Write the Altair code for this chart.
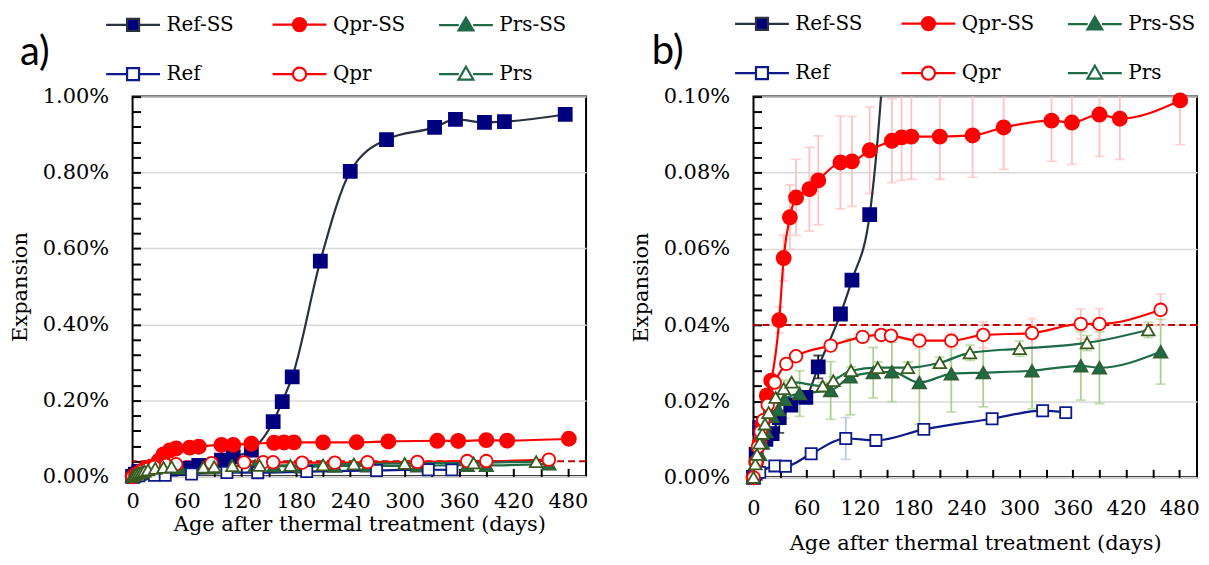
import altair as alt
import pandas as pd

# Expansion readings in %, day = age after thermal treatment
ref_ss_day = [0, 3, 7, 14, 21, 29, 42, 59, 73, 98, 111, 131, 155, 165, 176, 207, 240, 280, 333, 356, 388, 410, 477]
ref_ss_val = [0.0, 0.006, 0.013, 0.010, 0.0115, 0.0157, 0.019, 0.021, 0.029, 0.0429, 0.0518, 0.069, 0.144, 0.197,
              0.262, 0.567, 0.803, 0.887, 0.919, 0.940, 0.932, 0.934, 0.953]
ref_ss_err = [0, 0, 0, 0, 0, 0.004, 0, 0, 0.003, 0, 0, 0, 0, 0, 0, 0, 0, 0, 0, 0, 0, 0, 0]

qpr_ss_day = [0, 3, 7, 10, 15, 20, 29, 34, 41, 48, 63, 73, 98, 111, 131, 156, 167, 178, 210, 247, 282, 336, 359, 390, 413, 481]
qpr_ss_val = [0.0, 0.004, 0.009, 0.014, 0.0215, 0.0254, 0.0413, 0.0576, 0.0683, 0.0735, 0.0757, 0.078, 0.0827, 0.083,
              0.0859, 0.0884, 0.0893, 0.0895, 0.0895, 0.0898, 0.0919, 0.0937, 0.0932, 0.0953, 0.0942, 0.099]
qpr_ss_err = [0, 0, 0, 0, 0, 0, 0.0034, 0.006, 0.0085, 0.010, 0.011, 0.0117, 0.0122, 0.0118, 0.0114, 0.011, 0.0113,
              0.0112, 0.0112, 0.011, 0.011, 0.0107, 0.011, 0.011, 0.0107, 0.0116]

prs_ss_day = [0, 3, 7, 10, 14, 21, 28, 35, 52, 87, 109, 135, 156, 187, 223, 259, 314, 369, 390, 459]
prs_ss_val = [0.0, 0.003, 0.006, 0.009, 0.012, 0.016, 0.0178, 0.0205, 0.022, 0.0228, 0.0264, 0.0275, 0.0277, 0.0249,
              0.0272, 0.0275, 0.028, 0.0293, 0.0288, 0.033]
prs_ss_err = [0, 0, 0, 0, 0, 0, 0.004, 0.005, 0.006, 0.0076, 0.010, 0.0066, 0.0078, 0.011, 0.010, 0.009, 0.010,
              0.009, 0.0094, 0.0085]

ref_day = [0, 3, 7, 24, 36, 65, 104, 138, 192, 269, 326, 352]
ref_val = [0.0, 0.0008, 0.0013, 0.003, 0.0029, 0.0062, 0.0102, 0.0097, 0.0126, 0.0154, 0.0175, 0.017]
ref_err = [0, 0, 0, 0.0012, 0, 0, 0.0055, 0, 0.0008, 0, 0, 0]

qpr_day = [0, 3, 5, 8, 11, 16, 24, 37, 48, 87, 123, 144, 155, 187, 223, 259, 314, 369, 390, 459]
qpr_val = [0.0, 0.004, 0.008, 0.012, 0.015, 0.019, 0.0249, 0.0298, 0.0318, 0.0346, 0.0369, 0.0374, 0.0372, 0.0359,
           0.0359, 0.0374, 0.0379, 0.0403, 0.0403, 0.044]
qpr_err = [0, 0, 0, 0, 0, 0, 0, 0, 0, 0.0012, 0.0012, 0.001, 0.001, 0.002, 0.002, 0.0034, 0.0038, 0.0039, 0.004, 0.0041]

prs_day = [0, 2, 4, 7, 10, 13, 17, 25, 34, 43, 78, 90, 110, 140, 174, 210, 244, 300, 376, 445]
prs_val = [0.0, 0.0035, 0.006, 0.009, 0.0115, 0.014, 0.017, 0.021, 0.0233, 0.025, 0.024, 0.0254, 0.028, 0.0288,
           0.0288, 0.0301, 0.0327, 0.0338, 0.0353, 0.0387]
prs_err = [0, 0, 0, 0, 0, 0, 0, 0, 0, 0, 0.001, 0.001, 0.001, 0.0015, 0.0015, 0.0015, 0.002, 0.002, 0.002, 0.002]

limit = 0.04  # dashed threshold line, %

x_ticks = [0, 60, 120, 180, 240, 300, 360, 420, 480]
x_minor = [0, 30, 60, 90, 120, 150, 180, 210, 240, 270, 300, 330, 360, 390, 420, 450, 480]
y_ticks_a = [0.0, 0.2, 0.4, 0.6, 0.8, 1.0]
y_ticks_b = [0.0, 0.02, 0.04, 0.06, 0.08, 0.10]

names = ["Ref-SS", "Qpr-SS", "Prs-SS", "Ref", "Qpr", "Prs"]
series = {
    "Ref-SS": (ref_ss_day, ref_ss_val, ref_ss_err),
    "Qpr-SS": (qpr_ss_day, qpr_ss_val, qpr_ss_err),
    "Prs-SS": (prs_ss_day, prs_ss_val, prs_ss_err),
    "Ref": (ref_day, ref_val, ref_err),
    "Qpr": (qpr_day, qpr_val, qpr_err),
    "Prs": (prs_day, prs_val, prs_err),
}

# looks of each series
NAVY = "#00007F"
RED = "#FF0000"
GREEN = "#1E6B47"
style = {
    "Ref-SS": dict(line="#2A3140", stroke=NAVY, fill=NAVY, shape="square", size=170, ecol="#000000"),
    "Qpr-SS": dict(line=RED, stroke=RED, fill=RED, shape="circle", size=200, ecol="#FFC2C2"),
    "Prs-SS": dict(line=GREEN, stroke="#2F5F32", fill=GREEN, shape="triangle-up", size=180, ecol="#A9D18E"),
    "Ref": dict(line="#0C1A8C", stroke="#0C1A8C", fill="white", shape="square", size=125, ecol="#B4C7E7"),
    "Qpr": dict(line=RED, stroke=RED, fill="white", shape="circle", size=160, ecol="#FFC2C2"),
    "Prs": dict(line=GREEN, stroke="#3A5A1E", fill="white", shape="triangle-up", size=160, ecol="#A9D18E"),
}

rows = []
for name in names:
    d, v, e = series[name]
    for di, vi, ei in zip(d, v, e):
        rows.append(dict(series=name, day=di, val=vi / 100, err=ei, lo=(vi - ei) / 100, hi=(vi + ei) / 100,
                         **style[name]))
df = pd.DataFrame(rows)
thr = pd.DataFrame({"val": [limit / 100]})

# legend symbols: a line with the marker in the middle
sq = "M-2.25,0H-0.5M0.5,0H2.25M-0.5,-0.5H0.5V0.5H-0.5Z"
ci = "M-2.25,0H-0.55M0.55,0H2.25M-0.55,0A0.55,0.55,0,1,1,0.55,0A0.55,0.55,0,1,1,-0.55,0Z"
tr = "M-2.25,0H-0.6M0.6,0H2.25M0,-0.62L0.62,0.45H-0.62Z"
leg_paths = [sq, ci, tr, sq, ci, tr]
leg_fill = [NAVY, RED, GREEN, "white", "white", "white"]
leg_stroke = ["#2A3140", RED, GREEN, "#0C1A8C", RED, GREEN]

FONT = "DejaVu Serif"


def panel(tag, ymax, yticks, ystep_minor, width, height, with_err, leg_x, leg_y, tdx, tdy, lab_pad, tit_pad):
    xs = alt.Scale(domain=[0, 500], nice=False)
    ys = alt.Scale(domain=[0, ymax], nice=False)
    y_vals = [t / 100 for t in yticks]
    n_minor = int(round(ymax / ystep_minor))
    y_minor = [round(i * ystep_minor, 8) for i in range(n_minor + 1)]

    main_x = alt.Axis(values=x_ticks, ticks=False, domain=False, grid=False, labelFlush=False, labelOverlap=False,
                      labelFontSize=21, labelPadding=lab_pad, title="Age after thermal treatment (days)",
                      titleFontSize=21, titlePadding=tit_pad)
    main_y = alt.Axis(values=y_vals, format=".2%", ticks=False, domain=False, grid=True, labelFlush=False,
                      labelOverlap=False, labelFontSize=21, labelPadding=24, title="Expansion",
                      titleFontSize=21, titlePadding=12)
    # inward ticks: opposite-side axes pulled across the plot
    tick_x = alt.Axis(orient="top", offset=-height, values=x_minor, labels=False, domain=False, grid=False,
                      tickSize=8, tickWidth=2, tickColor="black", title=None)
    tick_y = alt.Axis(orient="right", offset=-width, values=y_minor, labels=False, domain=False, grid=False,
                      tickSize=8, tickWidth=2, tickColor="black", title=None)

    base = alt.Chart(df)
    clip = with_err

    rule = alt.Chart(thr).mark_rule(color="#C00000", strokeWidth=2, strokeDash=[7, 4]).encode(
        y=alt.Y("val:Q", scale=ys, axis=None))

    lines = base.mark_line(interpolate="monotone", strokeWidth=2.2, clip=clip).encode(
        x=alt.X("day:Q", scale=xs, axis=tick_x),
        y=alt.Y("val:Q", scale=ys, axis=tick_y),
        color=alt.Color("line:N", scale=None),
        detail="series:N",
        order="day:Q",
    )

    pts = base
    if with_err:
        pts = pts.transform_filter(f"datum.val <= {ymax}")
    points = pts.mark_point(opacity=1, strokeWidth=1.8).encode(
        x=alt.X("day:Q", scale=xs, axis=main_x),
        y=alt.Y("val:Q", scale=ys, axis=main_y),
        shape=alt.Shape("shape:N", scale=None),
        fill=alt.Fill("fill:N", scale=None),
        stroke=alt.Stroke("stroke:N", scale=None),
        size=alt.Size("size:Q", scale=None),
    )

    leg = alt.Legend(title=None, orient="none", legendX=leg_x, legendY=leg_y, columns=3, direction="horizontal",
                     symbolSize=576, symbolStrokeWidth=2.2, symbolOpacity=1, labelFont=FONT, labelFontSize=20,
                     labelColor="black", labelOffset=20, columnPadding=29, rowPadding=25, gridAlign="all")
    legend = alt.Chart(df).transform_filter("datum.day < 0").mark_point(opacity=1).encode(
        shape=alt.Shape("series:N", scale=alt.Scale(domain=names, range=leg_paths), legend=leg),
        fill=alt.Fill("series:N", scale=alt.Scale(domain=names, range=leg_fill), legend=leg),
        stroke=alt.Stroke("series:N", scale=alt.Scale(domain=names, range=leg_stroke), legend=leg),
    )

    layers = [rule]
    if with_err:
        eb = base.transform_filter("datum.err > 0")
        bars = eb.mark_rule(strokeWidth=1.8, clip=True).encode(
            x=alt.X("day:Q", scale=xs, axis=None), y=alt.Y("lo:Q", scale=ys, axis=None), y2="hi:Q",
            color=alt.Color("ecol:N", scale=None))
        cap_hi = eb.mark_tick(orient="horizontal", size=10, thickness=1.8, clip=True).encode(
            x=alt.X("day:Q", scale=xs, axis=None), y=alt.Y("hi:Q", scale=ys, axis=None),
            color=alt.Color("ecol:N", scale=None))
        cap_lo = eb.mark_tick(orient="horizontal", size=10, thickness=1.8, clip=True).encode(
            x=alt.X("day:Q", scale=xs, axis=None), y=alt.Y("lo:Q", scale=ys, axis=None),
            color=alt.Color("ecol:N", scale=None))
        layers += [bars, cap_hi, cap_lo]
    layers += [lines, points, legend]

    return alt.layer(*layers).resolve_axis(x="independent", y="independent").properties(
        width=width, height=height,
        title=alt.TitleParams(tag, anchor="start", frame="group", dx=tdx, dy=tdy, fontSize=40, font="Lato",
                              fontWeight="normal", color="black"),
    )


pa = panel("a)", 0.01, y_ticks_a, 0.0004, 455, 381, False, -13, -86, -113, 66, 14, 2)
pb = panel("b)", 0.001, y_ticks_b, 0.00004, 445, 382, True, -5, -87, -102, 66, 20, 14)

chart = alt.hconcat(pa, pb, spacing=40).resolve_scale(
    shape="independent", fill="independent", stroke="independent"
).resolve_legend(shape="independent", fill="independent", stroke="independent").properties(
    padding=0, background="white"
).configure_view(stroke="black", strokeWidth=2).configure_axis(
    labelFont=FONT, titleFont=FONT, labelColor="black", titleColor="black", titleFontWeight="normal",
    gridColor="#D9D9D9", gridWidth=1.5
)

chart.save("out.html", embed_options={"renderer": "svg", "actions": False})
